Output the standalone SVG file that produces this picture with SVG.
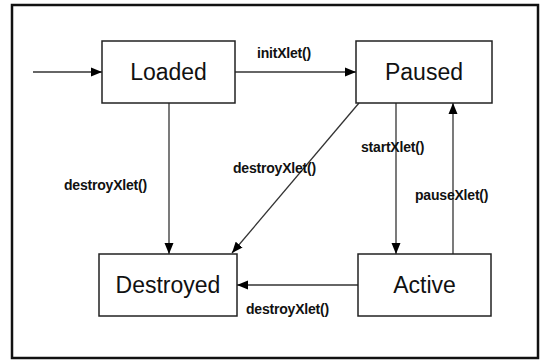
<svg xmlns="http://www.w3.org/2000/svg" width="542" height="360" viewBox="0 0 542 360">
<style>
.box{fill:#fff;stroke:#222;stroke-width:1.5}
.st{font-family:"Liberation Sans",Arial,sans-serif;font-size:23px;fill:#111;text-anchor:middle}
.lb{font-family:"Liberation Sans",Arial,sans-serif;font-size:14px;font-weight:bold;fill:#111;letter-spacing:-0.2px}
.cn{stroke:#333;stroke-width:1.3;fill:none;marker-end:url(#ah)}
</style>
<defs>
<marker id="ah" markerUnits="userSpaceOnUse" markerWidth="12" markerHeight="10" viewBox="0 0 12 10" refX="11" refY="5" orient="auto">
<path d="M0,0.5 L11,5 L0,9.5 Z" fill="#000"/>
</marker>
</defs>
<rect x="12" y="5" width="526" height="353" fill="#fff" stroke="#111" stroke-width="2.5"/>
<g id="connectors">
<line class="cn" x1="33" y1="72" x2="102" y2="72"/>
<line class="cn" x1="235" y1="72" x2="356" y2="72"/>
<line class="cn" x1="169" y1="103" x2="169" y2="254"/>
<line class="cn" x1="359" y1="103" x2="232" y2="253"/>
<line class="cn" x1="396" y1="103" x2="396" y2="254"/>
<line class="cn" x1="453" y1="254" x2="453" y2="103"/>
<line class="cn" x1="358" y1="285" x2="237" y2="285"/>
<text class="lb" x="257" y="58">initXlet()</text>
<text class="lb" x="64" y="190">destroyXlet()</text>
<text class="lb" x="233" y="173">destroyXlet()</text>
<text class="lb" x="361" y="152">startXlet()</text>
<text class="lb" x="415" y="200">pauseXlet()</text>
<text class="lb" x="246" y="314">destroyXlet()</text>
</g>
<g id="loaded"><rect class="box" x="102" y="41" width="133" height="62"/><text class="st" x="168.5" y="80">Loaded</text></g>
<g id="paused"><rect class="box" x="356" y="41" width="136" height="62"/><text class="st" x="424" y="80">Paused</text></g>
<g id="destroyed"><rect class="box" x="99" y="254" width="138" height="62"/><text class="st" x="168" y="293">Destroyed</text></g>
<g id="active"><rect class="box" x="358" y="254" width="133" height="62"/><text class="st" x="424.5" y="293">Active</text></g>
</svg>
